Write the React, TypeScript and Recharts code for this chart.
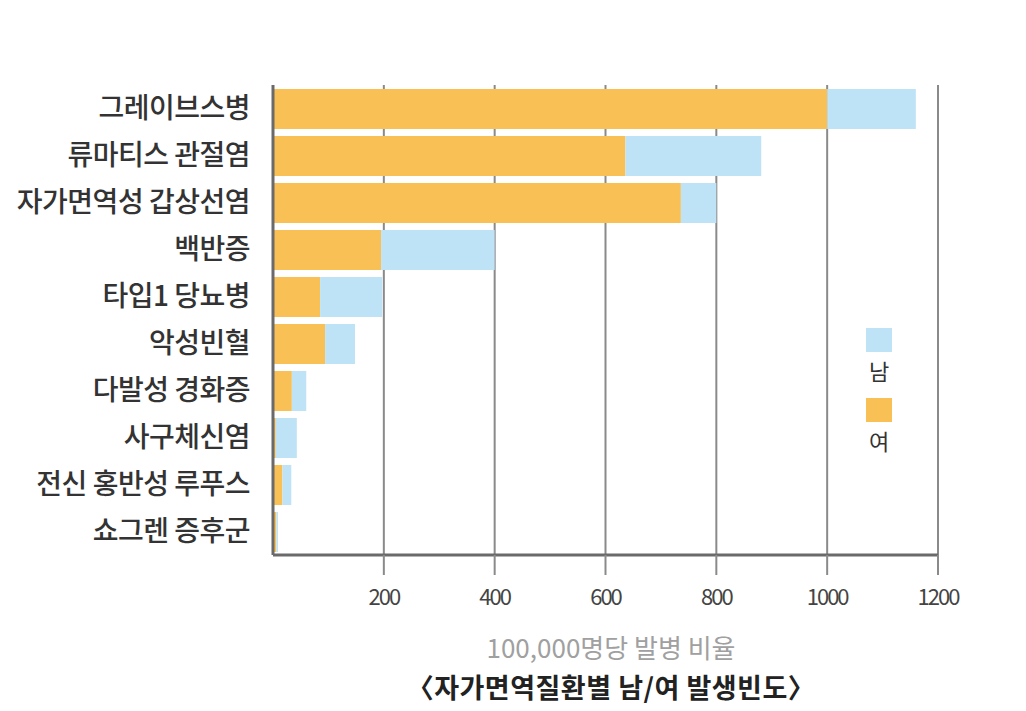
import React from 'react';
import {
  BarChart,
  Bar,
  XAxis,
  YAxis,
  CartesianGrid,
} from 'recharts';

const diseases = [
  '그레이브스병',
  '류마티스 관절염',
  '자가면역성 갑상선염',
  '백반증',
  '타입1 당뇨병',
  '악성빈혈',
  '다발성 경화증',
  '사구체신염',
  '전신 홍반성 루푸스',
  '쇼그렌 증후군',
];

// 여 segment (orange) and 남 segment (blue) as drawn, per 100,000
const femaleRate = [1000, 636, 736, 195, 85, 94, 34, 5, 17, 6];
const maleRate = [160, 245, 64, 205, 112, 54, 26, 38, 16, 3];

const xTicks = [200, 400, 600, 800, 1000, 1200];

const ORANGE = '#f9c155';
const BLUE = '#bfe3f6';
const FONT = '"Noto Sans CJK KR", "Noto Sans", sans-serif';

const data = diseases.map((name, i) => ({
  name,
  여: femaleRate[i],
  남: maleRate[i],
}));

function LegendBox() {
  const item = (color: string, label: string) => (
    <div style={{ display: 'flex', flexDirection: 'column', alignItems: 'center', marginBottom: 14 }}>
      <div style={{ width: 26, height: 24, background: color }} />
      <div style={{ fontSize: 22, color: '#333', fontFamily: FONT, lineHeight: '28px', marginTop: 4 }}>{label}</div>
    </div>
  );
  return (
    <div style={{ position: 'absolute', left: 866, top: 328, width: 26 }}>
      {item(BLUE, '남')}
      {item(ORANGE, '여')}
    </div>
  );
}

export default function App() {
  return (
    <div style={{ position: 'absolute', left: 0, top: 0, width: 1026, height: 711, background: '#fff', overflow: 'hidden' }}>
      <BarChart
        width={1026}
        height={711}
        data={data}
        layout="vertical"
        margin={{ top: 85, right: 88, bottom: 126, left: 0 }}
      >
        <CartesianGrid horizontal={false} stroke="#8a8a8a" strokeWidth={2} />
        <XAxis
          type="number"
          domain={[0, 1200]}
          ticks={xTicks}
          height={30}
          stroke="#6a6a6a"
          strokeWidth={3}
          tickSize={20}
          tickMargin={14}
          tickLine={{ stroke: '#8a8a8a', strokeWidth: 2 }}
          tick={{ fill: '#444', fontSize: 22, fontFamily: FONT, letterSpacing: -2 }}
        />
        <YAxis
          type="category"
          dataKey="name"
          width={273}
          stroke="#6a6a6a"
          strokeWidth={3}
          tickLine={false}
          tickSize={0}
          tickMargin={23}
          interval={0}
          tick={{ fill: '#333', fontSize: 28, fontFamily: FONT, fontWeight: 500, letterSpacing: -0.5 }}
        />
        <Bar dataKey="여" stackId="a" fill={ORANGE} barSize={40} isAnimationActive={false} />
        <Bar dataKey="남" stackId="a" fill={BLUE} barSize={40} isAnimationActive={false} />
      </BarChart>
      <LegendBox />
      <div
        style={{
          position: 'absolute',
          left: 0,
          width: 1222,
          top: 628,
          textAlign: 'center',
          fontFamily: FONT,
          fontSize: 26,
          color: '#a0a0a0',
          letterSpacing: 0,
          whiteSpace: 'nowrap',
        }}
      >
        100,000명당 발병 비율
      </div>
      <div
        style={{
          position: 'absolute',
          left: 0,
          width: 1222,
          top: 667,
          textAlign: 'center',
          fontFamily: FONT,
          fontSize: 27,
          fontWeight: 700,
          color: '#222',
          letterSpacing: 0.5,
          whiteSpace: 'nowrap',
        }}
      >
        〈자가면역질환별 남/여 발생빈도〉
      </div>
    </div>
  );
}
